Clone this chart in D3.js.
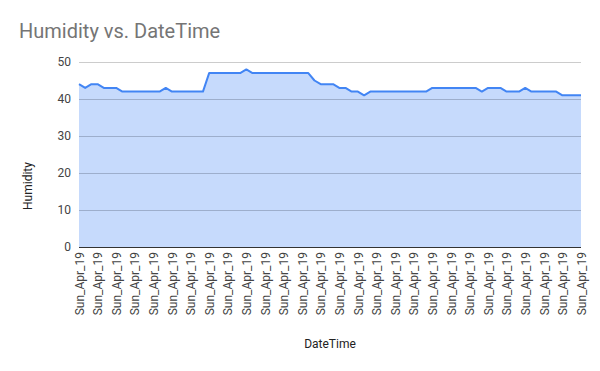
<!DOCTYPE html>
<html lang="en">
<head>
<meta charset="UTF-8">
<title>Humidity vs. DateTime</title>
<script src="https://cdn.jsdelivr.net/npm/d3@7"></script>
<style>
  body { margin: 0; background: #fff; }
  text { font-family: Roboto, Arial, sans-serif; }
</style>
</head>
<body>
<svg id="chart" width="600" height="371"></svg>
<script>
// one label per reading, every reading taken on the same day
const dateLabels = Array(82).fill('Sun_Apr_19')
const humidity = [
  44, 43, 44, 44, 43, 43, 43, 42, 42, 42,
  42, 42, 42, 42, 43, 42, 42, 42, 42, 42,
  42, 47, 47, 47, 47, 47, 47, 48, 47, 47,
  47, 47, 47, 47, 47, 47, 47, 47, 45, 44,
  44, 44, 43, 43, 42, 42, 41, 42, 42, 42,
  42, 42, 42, 42, 42, 42, 42, 43, 43, 43,
  43, 43, 43, 43, 43, 42, 43, 43, 43, 42,
  42, 42, 43, 42, 42, 42, 42, 42, 41, 41,
  41, 41
]
const yTicks = [0, 10, 20, 30, 40, 50]

const svg = d3.select('#chart')
const plotLeft = 79, plotRight = 581, plotTop = 62, plotBottom = 247

const x = d3.scaleLinear().domain([0, humidity.length - 1]).range([plotLeft, plotRight])
const y = d3.scaleLinear().domain([0, 50]).range([plotBottom, plotTop])

svg.append('text')
  .attr('x', 19).attr('y', 38)
  .style('font-size', '20px')
  .style('fill', '#757575')
  .text('Humidity vs. DateTime')

// gridlines
svg.append('g')
  .selectAll('line')
  .data(yTicks.filter(d => d > 0))
  .join('line')
  .attr('x1', plotLeft).attr('x2', plotRight)
  .attr('y1', d => y(d)).attr('y2', d => y(d))
  .attr('stroke', '#cccccc')
  .attr('stroke-width', 1)
  .attr('shape-rendering', 'crispEdges')

const area = d3.area()
  .x((d, i) => x(i))
  .y0(y(0))
  .y1(d => y(d))

svg.append('path')
  .datum(humidity)
  .attr('d', area)
  .attr('fill', '#4285f4')
  .attr('fill-opacity', 0.3)

// gridlines show faintly through the fill
svg.append('g')
  .selectAll('line')
  .data(yTicks.filter(d => d > 0 && d < 45))
  .join('line')
  .attr('x1', plotLeft).attr('x2', plotRight)
  .attr('y1', d => y(d)).attr('y2', d => y(d))
  .attr('stroke', '#9aa8c4')
  .attr('stroke-opacity', 0.6)
  .attr('shape-rendering', 'crispEdges')

svg.append('path')
  .datum(humidity)
  .attr('d', d3.line().x((d, i) => x(i)).y(d => y(d)))
  .attr('fill', 'none')
  .attr('stroke', '#4285f4')
  .attr('stroke-width', 2)
  .attr('stroke-linejoin', 'round')

// baseline
svg.append('line')
  .attr('x1', plotLeft).attr('x2', plotRight)
  .attr('y1', y(0)).attr('y2', y(0))
  .attr('stroke', '#333333')
  .attr('shape-rendering', 'crispEdges')

const yAxis = svg.append('g')
  .attr('transform', `translate(${plotLeft},0)`)
  .call(d3.axisLeft(y).tickValues(yTicks).tickSize(0).tickPadding(8))
yAxis.select('.domain').remove()
yAxis.selectAll('text')
  .style('font-size', '12px')
  .style('fill', '#444')
  .style('font-family', 'Roboto, Arial, sans-serif')

const xTickIdx = d3.range(0, humidity.length, 3)
const xAxis = svg.append('g')
  .attr('transform', `translate(0,${plotBottom})`)
  .call(d3.axisBottom(x).tickValues(xTickIdx).tickSize(0).tickFormat(i => dateLabels[i]))
xAxis.select('.domain').remove()
xAxis.selectAll('text')
  .attr('transform', 'rotate(-90)')
  .attr('text-anchor', 'end')
  .attr('x', -5)
  .attr('y', 0)
  .attr('dy', '0.35em')
  .style('font-size', '12px')
  .style('fill', '#444')
  .style('font-family', 'Roboto, Arial, sans-serif')

svg.append('text')
  .attr('x', 330).attr('y', 348)
  .attr('text-anchor', 'middle')
  .style('font-size', '12px')
  .style('fill', '#222')
  .text('DateTime')

svg.append('text')
  .attr('transform', 'translate(32,186) rotate(-90)')
  .attr('text-anchor', 'middle')
  .style('font-size', '12px')
  .style('fill', '#222')
  .text('Humidity')
</script>
</body>
</html>
